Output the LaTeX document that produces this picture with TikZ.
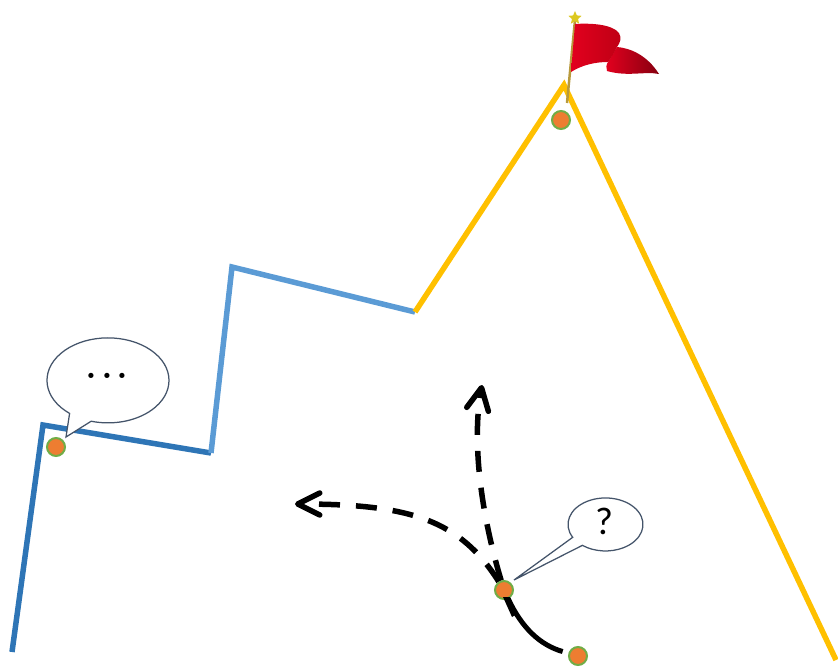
\documentclass[tikz,border=0pt]{standalone}
\usepackage{fontspec}
\newfontfamily\labelfont{Carlito}
\usepackage{xcolor}
\usetikzlibrary{arrows.meta,shapes.geometric}
\definecolor{darkblue}{HTML}{2E75B6}
\definecolor{lightblue}{HTML}{5B9BD5}
\definecolor{ridgeyellow}{HTML}{FFC000}
\definecolor{dotorange}{HTML}{ED7D31}
\definecolor{dotgreen}{HTML}{70AD47}
\definecolor{calloutline}{HTML}{44546A}
\definecolor{flagred}{HTML}{E2001E}
\definecolor{flagmid}{HTML}{BE0014}
\definecolor{flagdark}{HTML}{860010}
\definecolor{poletan}{HTML}{B89A3C}
\definecolor{stargold}{HTML}{DCC820}
\tikzset{>=stealth}
\tikzset{
	ridge/.style={line width=1.1mm, line join=miter},
	place/.style={circle, draw=dotgreen, fill=dotorange, line width=0.4mm, minimum size=0.36cm, inner sep=0pt},
	callout/.style={draw=calloutline, fill=white, line width=0.25mm, line join=miter},
	walked/.style={black, line width=1mm},
	option/.style={black, line width=1.1mm, dash pattern=on 0.42cm off 0.32cm, -{Straight Barb[length=4.4mm,width=4.4mm,round]}}
}
\begin{document}
\begin{tikzpicture}[x=0.02cm, y=-0.02cm]
	\useasboundingbox (0,0) rectangle (838,669);
	% Ridge line, three colours
	\draw[ridge, darkblue] (12,652) -- (43,425) -- (211,453);
	\draw[ridge, lightblue] (211,453) -- (232,267) -- (415,312);
	\draw[ridge, ridgeyellow] (415,312) -- (564,85) -- (836,660);
	% Flag on the summit
	\draw[line width=0.5mm, poletan] (567,103) -- (575,20);
	\node[star, star points=5, star point ratio=2.2, fill=stargold, inner sep=0pt, minimum size=0.28cm] (flagstar) at (575,18) {};
	\shade[left color=flagred, right color=flagdark]
		(617,47) .. controls (630,48) and (647,55) .. (659,74)
		.. controls (645,71) and (628,77) .. (607,71)
		.. controls (606,68) and (606,65) .. (608,62) -- cycle;
	\shade[left color=flagred, right color=flagmid]
		(575,24) .. controls (590,23) and (612,24) .. (619,33)
		.. controls (622,38) and (620,43) .. (617,47)
		.. controls (614,53) and (611,58) .. (608,62)
		.. controls (595,62) and (582,65) .. (571,72) -- cycle;
	% Speech bubbles
	\draw[callout] (66,437) -- (69.6,413.4) arc[start angle=129, end angle=466, x radius=61, y radius=42.5] -- cycle;
	\node (dots) at (107,376) {\fontsize{36}{36}\selectfont ...};
	\draw[callout] (514,580) -- (572.7,537.3) arc[start angle=151, end angle=488, x radius=37.5, y radius=26.5] -- cycle;
	\node (question) at (604,521) {\labelfont\fontsize{22}{22}\selectfont ?};
	% Places on the way
	\node[place] (start) at (578,656) {};
	\node[place] (fork) at (504,590) {};
	\node[place] (base) at (56,447) {};
	\node[place] (summit) at (561,120) {};
	% Ends of the two open ways
	\coordinate (upend) at (482,385);
	\coordinate (leftend) at (295,504);
	% Way walked so far, with wedge at the fork
	\draw[walked, shorten <=0.12cm] (start) .. controls (540,645) and (522,628) .. (fork);
	\fill[black] (503,597) -- (510,597) -- (517,614) -- (512,617) -- cycle;
	% Two dashed options
	\draw[option] (fork) .. controls (480,510) and (472,440) .. (upend);
	\draw[option] (fork) .. controls (460,520) and (410,504) .. (leftend);
\end{tikzpicture}
\end{document}
